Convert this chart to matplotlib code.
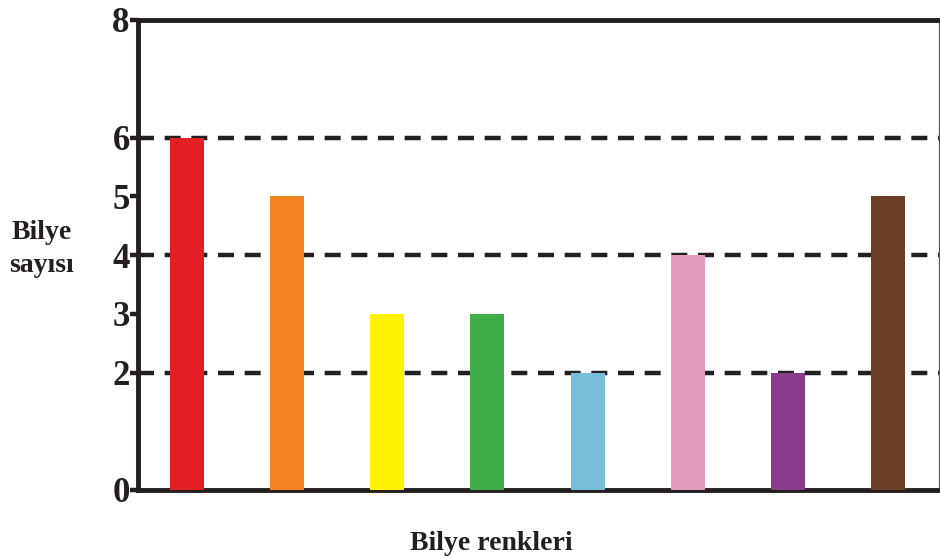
import matplotlib.pyplot as plt
import numpy as np

# data
renkler = ['kırmızı', 'turuncu', 'sarı', 'yeşil', 'mavi', 'pembe', 'mor', 'kahverengi']
sayilar = [6, 5, 3, 3, 2, 4, 2, 5]
bar_colors = ['#e31e24', '#f58220', '#fff200', '#3fae49',
              '#77bfd9', '#e49cbd', '#893c8c', '#6a3f24']
y_ticks = [0, 2, 3, 4, 5, 6, 8]
grid_levels = [2, 4, 6]

ink = '#231f20'
serif = ['Liberation Serif', 'DejaVu Serif']

fig = plt.figure(figsize=(9.4, 5.58), dpi=100)
ax = fig.add_axes([138/940, 1 - 490/558, 801/940, 470/558])

x = np.arange(len(renkler))
ax.bar(x, sayilar, width=0.34, color=bar_colors, zorder=3)

for lvl in grid_levels:
    ax.axhline(lvl, color=ink, lw=3.2, dashes=(3.6, 2.4), zorder=1)

ax.set_xlim(-0.49, 7.51)
ax.set_ylim(0, 8)
ax.set_xticks([])
ax.set_yticks(y_ticks)
ax.set_yticklabels([str(t) for t in y_ticks], fontfamily=serif,
                   fontweight='bold', fontsize=25, color=ink)
ax.tick_params(axis='y', direction='out', length=6, width=3.2,
               color=ink, pad=0)

for side in ['left', 'top', 'bottom']:
    ax.spines[side].set_linewidth(3.5)
    ax.spines[side].set_color(ink)
ax.spines['right'].set_linewidth(0.9)
ax.spines['right'].set_color('#555555')

fig.text(491/940, 1 - 543/558, 'Bilye renkleri', ha='center', va='center',
         fontfamily=serif, fontweight='bold', fontsize=20, color=ink)
fig.text(42/940, 1 - 249/558, 'Bilye\nsayısı', ha='center', va='center',
         fontfamily=serif, fontweight='bold', fontsize=20, color=ink,
         linespacing=1.4)

fig.savefig('out.png', dpi=100)
